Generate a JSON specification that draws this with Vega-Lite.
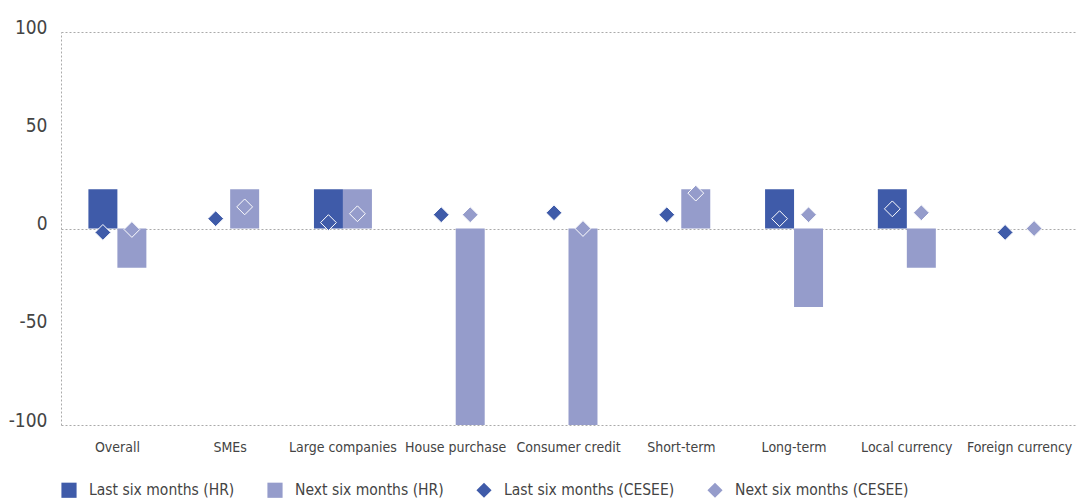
{
  "$schema": "https://vega.github.io/schema/vega-lite/v6.json",
  "width": 1015,
  "height": 393,
  "autosize": "none",
  "padding": {"left": 61, "top": 32, "right": 0, "bottom": 77},
  "background": "white",
  "config": {
    "view": {"stroke": null},
    "font": "'DejaVu Sans Condensed', 'Liberation Sans Narrow', 'Roboto Condensed', sans-serif"
  },
  "data": {
    "values": [
      {"category": "Overall", "period": "Last", "kind": "HR", "series": "Last six months (HR)", "value": 20},
      {"category": "Overall", "period": "Next", "kind": "HR", "series": "Next six months (HR)", "value": -20},
      {"category": "SMEs", "period": "Last", "kind": "HR", "series": "Last six months (HR)", "value": 0},
      {"category": "SMEs", "period": "Next", "kind": "HR", "series": "Next six months (HR)", "value": 20},
      {"category": "Large companies", "period": "Last", "kind": "HR", "series": "Last six months (HR)", "value": 20},
      {"category": "Large companies", "period": "Next", "kind": "HR", "series": "Next six months (HR)", "value": 20},
      {"category": "House purchase", "period": "Last", "kind": "HR", "series": "Last six months (HR)", "value": 0},
      {"category": "House purchase", "period": "Next", "kind": "HR", "series": "Next six months (HR)", "value": -100},
      {"category": "Consumer credit", "period": "Last", "kind": "HR", "series": "Last six months (HR)", "value": 0},
      {"category": "Consumer credit", "period": "Next", "kind": "HR", "series": "Next six months (HR)", "value": -100},
      {"category": "Short-term", "period": "Last", "kind": "HR", "series": "Last six months (HR)", "value": 0},
      {"category": "Short-term", "period": "Next", "kind": "HR", "series": "Next six months (HR)", "value": 20},
      {"category": "Long-term", "period": "Last", "kind": "HR", "series": "Last six months (HR)", "value": 20},
      {"category": "Long-term", "period": "Next", "kind": "HR", "series": "Next six months (HR)", "value": -40},
      {"category": "Local currency", "period": "Last", "kind": "HR", "series": "Last six months (HR)", "value": 20},
      {"category": "Local currency", "period": "Next", "kind": "HR", "series": "Next six months (HR)", "value": -20},
      {"category": "Foreign currency", "period": "Last", "kind": "HR", "series": "Last six months (HR)", "value": 0},
      {"category": "Foreign currency", "period": "Next", "kind": "HR", "series": "Next six months (HR)", "value": 0},
      {"category": "Overall", "period": "Last", "kind": "CESEE", "series": "Last six months (CESEE)", "value": -2},
      {"category": "Overall", "period": "Next", "kind": "CESEE", "series": "Next six months (CESEE)", "value": -0.5},
      {"category": "SMEs", "period": "Last", "kind": "CESEE", "series": "Last six months (CESEE)", "value": 5},
      {"category": "SMEs", "period": "Next", "kind": "CESEE", "series": "Next six months (CESEE)", "value": 11},
      {"category": "Large companies", "period": "Last", "kind": "CESEE", "series": "Last six months (CESEE)", "value": 3},
      {"category": "Large companies", "period": "Next", "kind": "CESEE", "series": "Next six months (CESEE)", "value": 7.5},
      {"category": "House purchase", "period": "Last", "kind": "CESEE", "series": "Last six months (CESEE)", "value": 7},
      {"category": "House purchase", "period": "Next", "kind": "CESEE", "series": "Next six months (CESEE)", "value": 7},
      {"category": "Consumer credit", "period": "Last", "kind": "CESEE", "series": "Last six months (CESEE)", "value": 8},
      {"category": "Consumer credit", "period": "Next", "kind": "CESEE", "series": "Next six months (CESEE)", "value": 0},
      {"category": "Short-term", "period": "Last", "kind": "CESEE", "series": "Last six months (CESEE)", "value": 7},
      {"category": "Short-term", "period": "Next", "kind": "CESEE", "series": "Next six months (CESEE)", "value": 18},
      {"category": "Long-term", "period": "Last", "kind": "CESEE", "series": "Last six months (CESEE)", "value": 5},
      {"category": "Long-term", "period": "Next", "kind": "CESEE", "series": "Next six months (CESEE)", "value": 7},
      {"category": "Local currency", "period": "Last", "kind": "CESEE", "series": "Last six months (CESEE)", "value": 10},
      {"category": "Local currency", "period": "Next", "kind": "CESEE", "series": "Next six months (CESEE)", "value": 8},
      {"category": "Foreign currency", "period": "Last", "kind": "CESEE", "series": "Last six months (CESEE)", "value": -2},
      {"category": "Foreign currency", "period": "Next", "kind": "CESEE", "series": "Next six months (CESEE)", "value": 0}
    ]
  },
  "encoding": {
    "x": {
      "field": "category",
      "type": "nominal",
      "sort": ["Overall", "SMEs", "Large companies", "House purchase", "Consumer credit", "Short-term", "Long-term", "Local currency", "Foreign currency"],
      "scale": {"paddingInner": 0.486, "paddingOuter": 0.243},
      "axis": {"title": null, "domain": false, "ticks": false, "grid": false, "labelAngle": 0, "labelFontSize": 14, "labelColor": "#444", "labelPadding": 15, "labelLimit": 0}
    },
    "xOffset": {"field": "period", "type": "nominal", "scale": {"paddingInner": 0, "paddingOuter": 0}},
    "y": {
      "field": "value",
      "type": "quantitative",
      "scale": {"domain": [-100, 100], "nice": false},
      "axis": {
        "title": null,
        "values": [-100, -50, 0, 50, 100],
        "labelExpr": "'' + datum.value",
        "domain": true,
        "domainColor": "#aaaaaa",
        "domainDash": [2, 2],
        "ticks": false,
        "labelFontSize": 19,
        "labelColor": "#444",
        "labelPadding": 14,
        "labelOffset": -5,
        "grid": true,
        "gridColor": "#aaaaaa",
        "gridDash": [2, 2],
        "gridOpacity": {"condition": {"test": "datum.value % 100 === 0", "value": 1}, "value": 0}
      }
    }
  },
  "layer": [
    {
      "transform": [{"filter": "datum.kind === 'HR'"}],
      "mark": {"type": "bar"},
      "encoding": {
        "color": {
          "field": "series",
          "type": "nominal",
          "scale": {
            "domain": ["Last six months (HR)", "Next six months (HR)", "Last six months (CESEE)", "Next six months (CESEE)"],
            "range": ["#3f5ba9", "#959ccb", "#3f5ba9", "#959ccb"]
          },
          "legend": {
            "title": null,
            "orient": "none",
            "legendX": 0,
            "legendY": 450,
            "direction": "horizontal",
            "labelFontSize": 15.5,
            "labelColor": "#444",
            "labelLimit": 0,
            "symbolSize": 230,
            "symbolStrokeWidth": 0,
            "columnPadding": 32,
            "labelOffset": 12
          }
        }
      }
    },
    {
      "transform": [{"filter": "datum.kind === 'CESEE'"}],
      "mark": {"type": "point", "filled": true, "opacity": 1, "size": 250, "stroke": "white", "strokeWidth": 1},
      "encoding": {
        "color": {"field": "series", "type": "nominal"},
        "shape": {
          "field": "series",
          "type": "nominal",
          "scale": {
            "domain": ["Last six months (HR)", "Next six months (HR)", "Last six months (CESEE)", "Next six months (CESEE)"],
            "range": ["square", "square", "diamond", "diamond"]
          }
        }
      }
    }
  ]
}
